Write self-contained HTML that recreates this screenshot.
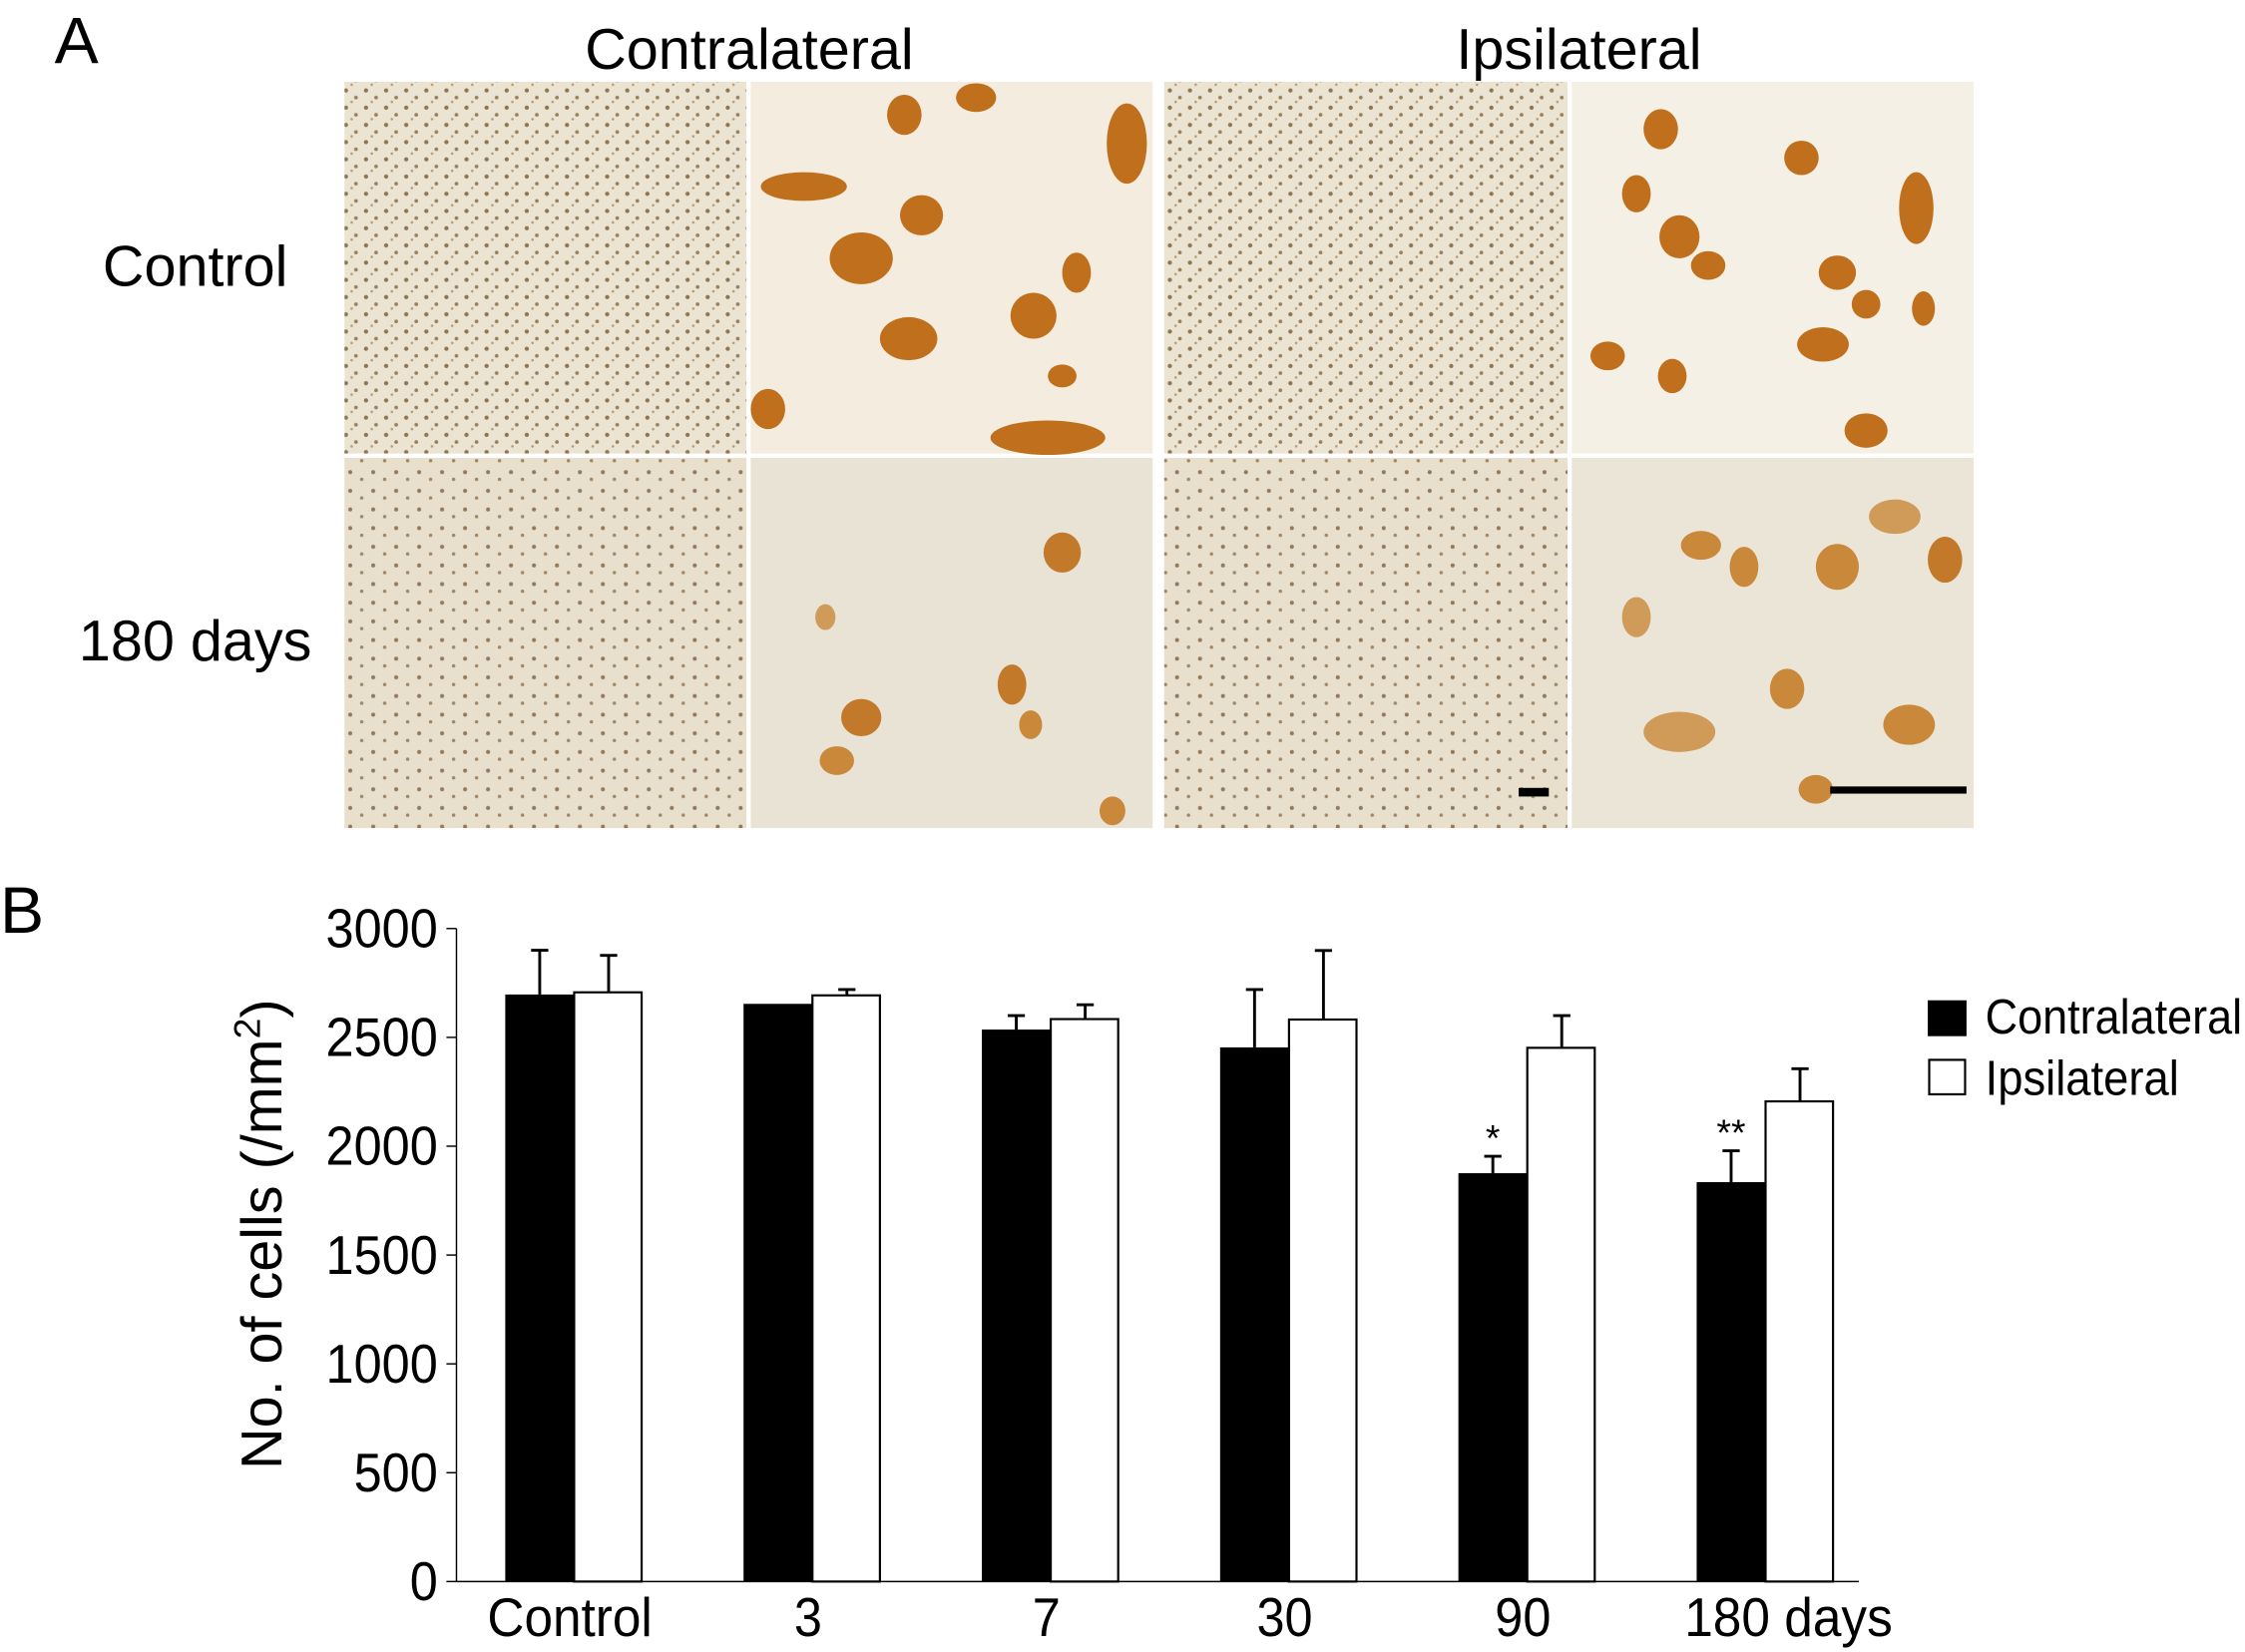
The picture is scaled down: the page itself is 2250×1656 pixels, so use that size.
<!DOCTYPE html>
<html><head><meta charset="utf-8"><style>
html,body{margin:0;padding:0;background:#fff;}
svg{display:block;}
text{font-family:"Liberation Sans",sans-serif;fill:#000;}
</style></head><body>
<svg id="fig" width="2250" height="1656" viewBox="0 0 1564 1151.1" preserveAspectRatio="none" xmlns="http://www.w3.org/2000/svg">
<defs>
<pattern id="dots" width="14" height="12" patternUnits="userSpaceOnUse">
<rect width="14" height="12" fill="#ece4d3"/>
<circle cx="3" cy="3" r="1.5" fill="#8f7550"/>
<circle cx="10" cy="8" r="1.3" fill="#9a805a"/>
<circle cx="7" cy="11" r="0.9" fill="#b49c78"/>
</pattern>
<pattern id="dots2" width="16" height="13" patternUnits="userSpaceOnUse">
<rect width="16" height="13" fill="#e8dfcd"/>
<circle cx="4" cy="4" r="1.4" fill="#93795a"/>
<circle cx="12" cy="9" r="1.2" fill="#a08766"/>
</pattern>
</defs>
<g>
<text x="38" y="44" font-size="46">A</text>
<text x="522" y="48" font-size="40" text-anchor="middle">Contralateral</text>
<text x="1100" y="48" font-size="40" text-anchor="middle">Ipsilateral</text>
<text x="136" y="199" font-size="40" text-anchor="middle">Control</text>
<text x="136" y="460" font-size="40" text-anchor="middle">180 days</text>
<rect x="240" y="57" width="280" height="259" fill="url(#dots)"/>
<rect x="523" y="57" width="280" height="259" fill="#f3ecdf"/>
<rect x="811" y="57" width="281" height="259" fill="url(#dots)"/>
<rect x="1095" y="57" width="280" height="259" fill="#f5f0e6"/>
<rect x="240" y="319" width="280" height="258" fill="url(#dots2)"/>
<rect x="523" y="319" width="280" height="258" fill="#e9e3d6"/>
<rect x="811" y="319" width="281" height="258" fill="url(#dots2)"/>
<rect x="1095" y="319" width="280" height="258" fill="#ebe5d8"/>
<g fill="#c0701c">
<ellipse cx="600" cy="180" rx="22" ry="18"/><ellipse cx="633" cy="236" rx="20" ry="15"/><ellipse cx="642" cy="150" rx="15" ry="14"/>
<ellipse cx="720" cy="220" rx="16" ry="16"/><ellipse cx="785" cy="100" rx="14" ry="28"/><ellipse cx="750" cy="190" rx="10" ry="14"/>
<ellipse cx="630" cy="80" rx="12" ry="14"/><ellipse cx="680" cy="68" rx="14" ry="10"/><ellipse cx="560" cy="130" rx="30" ry="10"/>
<ellipse cx="730" cy="305" rx="40" ry="12"/><ellipse cx="535" cy="285" rx="12" ry="14"/><ellipse cx="740" cy="262" rx="10" ry="8"/>
<ellipse cx="1157" cy="90" rx="12" ry="14"/><ellipse cx="1255" cy="110" rx="12" ry="12"/><ellipse cx="1140" cy="135" rx="10" ry="13"/>
<ellipse cx="1170" cy="165" rx="14" ry="15"/><ellipse cx="1190" cy="185" rx="12" ry="10"/><ellipse cx="1335" cy="145" rx="12" ry="25"/>
<ellipse cx="1280" cy="190" rx="13" ry="12"/><ellipse cx="1300" cy="212" rx="10" ry="10"/><ellipse cx="1270" cy="240" rx="18" ry="12"/>
<ellipse cx="1120" cy="248" rx="12" ry="10"/><ellipse cx="1165" cy="262" rx="10" ry="12"/><ellipse cx="1340" cy="215" rx="8" ry="12"/><ellipse cx="1300" cy="300" rx="15" ry="12"/>
<ellipse cx="740" cy="385" rx="13" ry="14" fill="#c27a2a"/><ellipse cx="600" cy="500" rx="14" ry="13" fill="#c27a2a"/><ellipse cx="705" cy="477" rx="10" ry="14" fill="#c27a2a"/>
<ellipse cx="583" cy="530" rx="12" ry="10" fill="#c9883a"/><ellipse cx="575" cy="430" rx="7" ry="9" fill="#d09a58"/><ellipse cx="775" cy="565" rx="9" ry="10" fill="#c9883a"/><ellipse cx="718" cy="505" rx="8" ry="10" fill="#c9883a"/>
<ellipse cx="1185" cy="380" rx="14" ry="10" fill="#c9883a"/><ellipse cx="1215" cy="395" rx="10" ry="14" fill="#c9883a"/><ellipse cx="1280" cy="395" rx="15" ry="16" fill="#c9883a"/>
<ellipse cx="1355" cy="390" rx="12" ry="16" fill="#c27a2a"/><ellipse cx="1320" cy="360" rx="18" ry="12" fill="#d09a58"/><ellipse cx="1245" cy="480" rx="12" ry="14" fill="#c9883a"/>
<ellipse cx="1170" cy="510" rx="25" ry="14" fill="#d09a58"/><ellipse cx="1330" cy="505" rx="18" ry="14" fill="#c9883a"/><ellipse cx="1265" cy="550" rx="12" ry="10" fill="#c9883a"/><ellipse cx="1140" cy="430" rx="10" ry="14" fill="#d09a58"/>
</g>
<rect x="1058" y="549" width="21" height="6" fill="#000"/>
<rect x="1275" y="548" width="95" height="5" fill="#000"/>
</g>
<text x="0" y="650" font-size="46">B</text>
<g id="chart"></g>
<text transform="translate(196,860) rotate(-90)" font-size="40" text-anchor="middle">No. of cells (/mm<tspan font-size="26" dy="-15">2</tspan><tspan dy="15">)</tspan></text>
<g>
<rect x="1343" y="697" width="27" height="25" fill="#000"/>
<text x="1383" y="720" font-size="34" textLength="179" lengthAdjust="spacingAndGlyphs">Contralateral</text>
<rect x="1344" y="738.5" width="25" height="24" fill="#fff" stroke="#000" stroke-width="1.5"/>
<text x="1383" y="763" font-size="34" textLength="135" lengthAdjust="spacingAndGlyphs">Ipsilateral</text>
</g>
</svg>
<script>
const categories = ["Control", "3", "7", "30", "90", "180 days"];
const contraValues = [2697, 2654, 2536, 2454, 1876, 1835];
const contraErrors = [203, 0, 64, 266, 78, 144];
const ipsiValues = [2707, 2693, 2584, 2582, 2452, 2206];
const ipsiErrors = [170, 27, 66, 317, 148, 150];
const yTicks = [0, 500, 1000, 1500, 2000, 2500, 3000];
const sigMarks = ["", "", "", "", "*", "**"];

const NS = "http://www.w3.org/2000/svg";
const g = document.getElementById('chart');
const x0 = 318, x1 = 1295, yZero = 1102, yTop = 647, yMax = 3000;
const y = v => yZero - (v / yMax) * (yZero - yTop);
const groupX = i => 400 + i * 166;
const bw = 48;
const CW = 19.5; // condensed char width (display units)
function mk(tag, attrs) { const e = document.createElementNS(NS, tag); for (const k in attrs) e.setAttribute(k, attrs[k]); g.appendChild(e); return e; }

let a = mk('line', {x1: x0, y1: yTop, x2: x0, y2: yZero, stroke: '#000', 'stroke-width': 1});


a = mk('line', {x1: x0, y1: yZero, x2: x1, y2: yZero, stroke: '#000', 'stroke-width': 1});



yTicks.forEach(t => {
  const tk = mk('line', {x1: x0 - 7, y1: y(t), x2: x0, y2: y(t), stroke: '#000', 'stroke-width': 1});
  
  
  const s = String(t);
  const lb = mk('text', {x: 305, y: y(t) + 13, 'font-size': 38, 'text-anchor': 'end', textLength: s.length * CW, lengthAdjust: 'spacingAndGlyphs'});
  lb.textContent = s;
  
  
});

function errBar(cx, v, e) {
  if (e <= 0) return;
  const l = mk('path', {d: `M${cx},${y(v)}V${y(v + e)}M${cx - 6},${y(v + e)}H${cx + 6}`, stroke: '#000', 'stroke-width': 2, fill: 'none'});
  
  
}

const xLabelWidths = {"Control": 115, "180 days": 145};
categories.forEach((c, i) => {
  const cx = groupX(i);
  const b = mk('rect', {x: cx - bw, y: y(contraValues[i]), width: bw, height: yZero - y(contraValues[i]), fill: '#000'});
  
  
  const w = mk('rect', {x: cx, y: y(ipsiValues[i]), width: bw - 1, height: yZero - y(ipsiValues[i]), fill: '#fff', stroke: '#000', 'stroke-width': 1.5});
  
  
  errBar(cx - bw / 2, contraValues[i], contraErrors[i]);
  errBar(cx + bw / 2, ipsiValues[i], ipsiErrors[i]);
  if (sigMarks[i]) {
    const s = mk('text', {x: cx - bw / 2, y: y(contraValues[i] + contraErrors[i]) - 4, 'font-size': 26, 'text-anchor': 'middle', 'font-family': 'Liberation Serif, serif'});
    s.textContent = sigMarks[i];
    
    
  }
  const tl = xLabelWidths[c] || c.length * CW;
  const t = mk('text', {x: i === 5 ? cx + 16 : cx - 3, y: 1140, 'font-size': 38, 'text-anchor': 'middle', textLength: tl, lengthAdjust: 'spacingAndGlyphs'});
  t.textContent = c;
  
  
});
</script>
</body></html>
